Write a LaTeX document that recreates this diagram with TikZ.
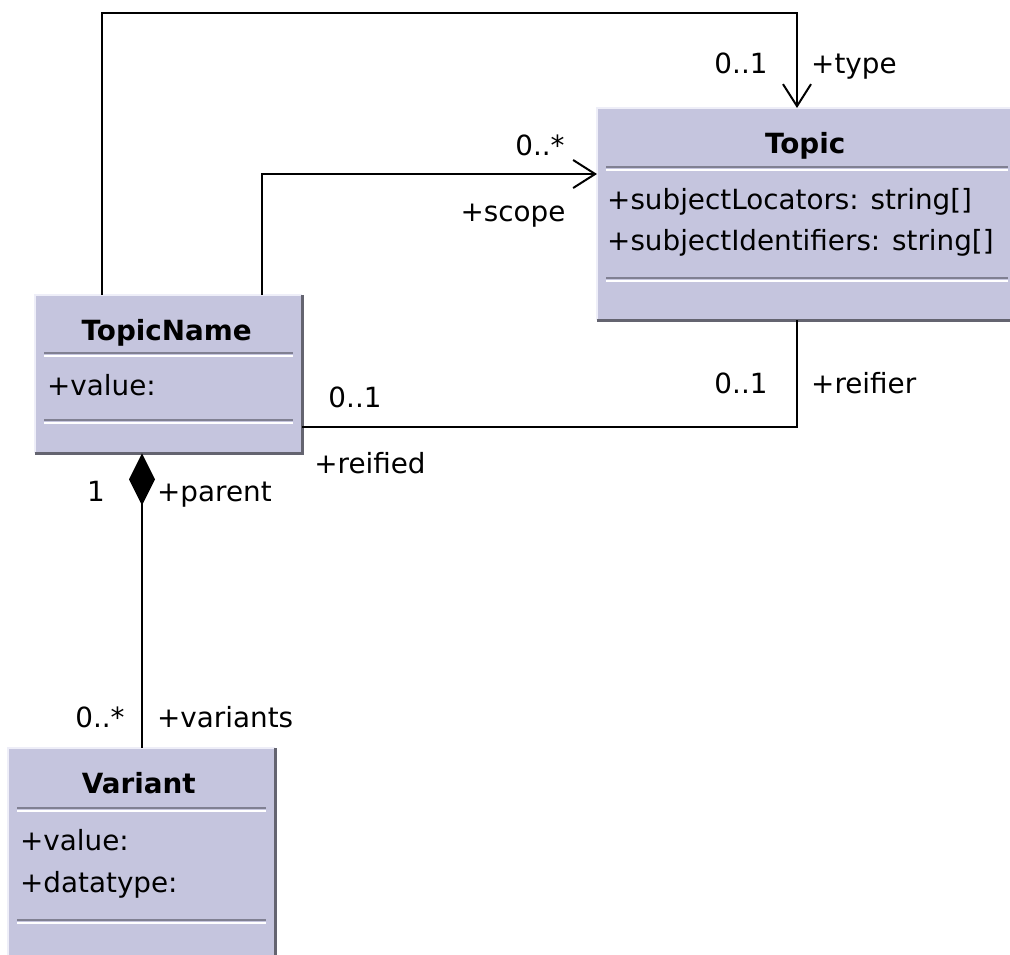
\documentclass[tikz,border=0pt]{standalone}
\usepackage{fontspec}
\setmainfont{DejaVu Sans}
\usetikzlibrary{arrows.meta,calc}
\definecolor{boxfill}{RGB}{197,197,222}
\definecolor{boxdark}{RGB}{100,100,112}
\definecolor{boxlight}{RGB}{238,238,248}
\definecolor{sepdark}{RGB}{128,128,146}
\begin{document}
\begin{tikzpicture}[x=1pt,y=1pt,
  lbl/.style={font=\fontsize{27.8}{30}\selectfont, text height=0.73em, text depth=0pt, inner sep=0pt, yshift=-6.5pt},
  hdr/.style={font=\fontsize{27.8}{30}\selectfont\bfseries, text height=0.73em, text depth=0pt, inner sep=0pt, yshift=-6.5pt},
  cbox/.style={fill=boxfill, inner sep=0pt, anchor=north west},
  lightedge/.style={boxlight, line width=2pt},
  darkedge/.style={boxdark, line width=3pt},
  sepd/.style={sepdark, line width=1.5pt},
  sepl/.style={white, line width=1.5pt},
  conn/.style={black, line width=2pt},
  openarrow/.style={-{Straight Barb[length=22pt,width=28pt]}}
]
\useasboundingbox (0,0) rectangle (1010,-954);

% ---------- Topic ----------
\node[cbox, minimum width=420pt, minimum height=212pt] (tp) at (597,-108) {};
\draw[lightedge] (tp.south west) -- (tp.north west) -- (tp.north east);
\draw[darkedge] (tp.north east) -- (tp.south east) -- (tp.south west);
\foreach \d in {59,170}{
  \draw[sepd] ([xshift=9pt,yshift=-\d pt]tp.north west) -- ([xshift=-9pt,yshift=-\d pt]tp.north east);
  \draw[sepl] ([xshift=9pt,yshift=-\d pt-3pt]tp.north west) -- ([xshift=-9pt,yshift=-\d pt-3pt]tp.north east);
}
\node[hdr] (tpt) at ([xshift=-2pt,yshift=-35pt]tp.north) {Topic};
\node[lbl, anchor=west] (tpa1) at ([xshift=10pt,yshift=-91pt]tp.north west) {+subjectLocators: string[]};
\node[lbl, anchor=west] (tpa2) at ([xshift=10pt,yshift=-132pt]tp.north west) {+subjectIdentifiers: string[]};

% ---------- TopicName ----------
\node[cbox, minimum width=267pt, minimum height=158pt] (tn) at (35,-295) {};
\draw[lightedge] (tn.south west) -- (tn.north west) -- (tn.north east);
\draw[darkedge] (tn.north east) -- (tn.south east) -- (tn.south west);
\foreach \d in {58,125}{
  \draw[sepd] ([xshift=9pt,yshift=-\d pt]tn.north west) -- ([xshift=-9pt,yshift=-\d pt]tn.north east);
  \draw[sepl] ([xshift=9pt,yshift=-\d pt-3pt]tn.north west) -- ([xshift=-9pt,yshift=-\d pt-3pt]tn.north east);
}
\node[hdr] (tnt) at ([xshift=-2pt,yshift=-35pt]tn.north) {TopicName};
\node[lbl, anchor=west] (tna1) at ([xshift=12pt,yshift=-90pt]tn.north west) {+value:};

% ---------- Variant ----------
\node[cbox, minimum width=267pt, minimum height=260pt] (vr) at (8,-748) {};
\draw[lightedge] (vr.south west) -- (vr.north west) -- (vr.north east);
\draw[darkedge] (vr.north east) -- (vr.south east) -- (vr.south west);
\foreach \d in {60,172}{
  \draw[sepd] ([xshift=9pt,yshift=-\d pt]vr.north west) -- ([xshift=-9pt,yshift=-\d pt]vr.north east);
  \draw[sepl] ([xshift=9pt,yshift=-\d pt-3pt]vr.north west) -- ([xshift=-9pt,yshift=-\d pt-3pt]vr.north east);
}
\node[hdr] (vrt) at ([xshift=-3pt,yshift=-35pt]vr.north) {Variant};
\node[lbl, anchor=west] (vra1) at ([xshift=12pt,yshift=-92pt]vr.north west) {+value:};
\node[lbl, anchor=west] (vra2) at ([xshift=12pt,yshift=-134pt]vr.north west) {+datatype:};

% ---------- Connectors ----------
\draw[conn, openarrow] ([xshift=67pt]tn.north west) -- ++(0,282) -| ([xshift=200pt]tp.north west);
\draw[conn, openarrow] ([xshift=227pt]tn.north west) |- ([yshift=-66pt]tp.north west);
\draw[conn] ([yshift=-132pt]tn.north east) -| ([xshift=200pt]tp.south west);
\draw[conn, {Diamond[length=52pt,width=26pt]}-] ([xshift=107pt]tn.south west) -- ([xshift=134pt]vr.north west);

% ---------- Labels ----------
\node[lbl] (l1) at (741,-63) {0..1};
\node[lbl, anchor=west] (l2) at (811,-63) {+type};
\node[lbl] (l3) at (540,-145) {0..*};
\node[lbl] (l4) at (513,-211) {+scope};
\node[lbl] (l5) at (355,-397) {0..1};
\node[lbl] (l6) at (741,-383) {0..1};
\node[lbl, anchor=west] (l7) at (811,-383) {+reifier};
\node[lbl] (l8) at (370,-463) {+reified};
\node[lbl] (l9) at (96,-491) {1};
\node[lbl, anchor=west] (l10) at (157,-491) {+parent};
\node[lbl] (l11) at (100,-717) {0..*};
\node[lbl, anchor=west] (l12) at (157,-717) {+variants};
\end{tikzpicture}
\end{document}
